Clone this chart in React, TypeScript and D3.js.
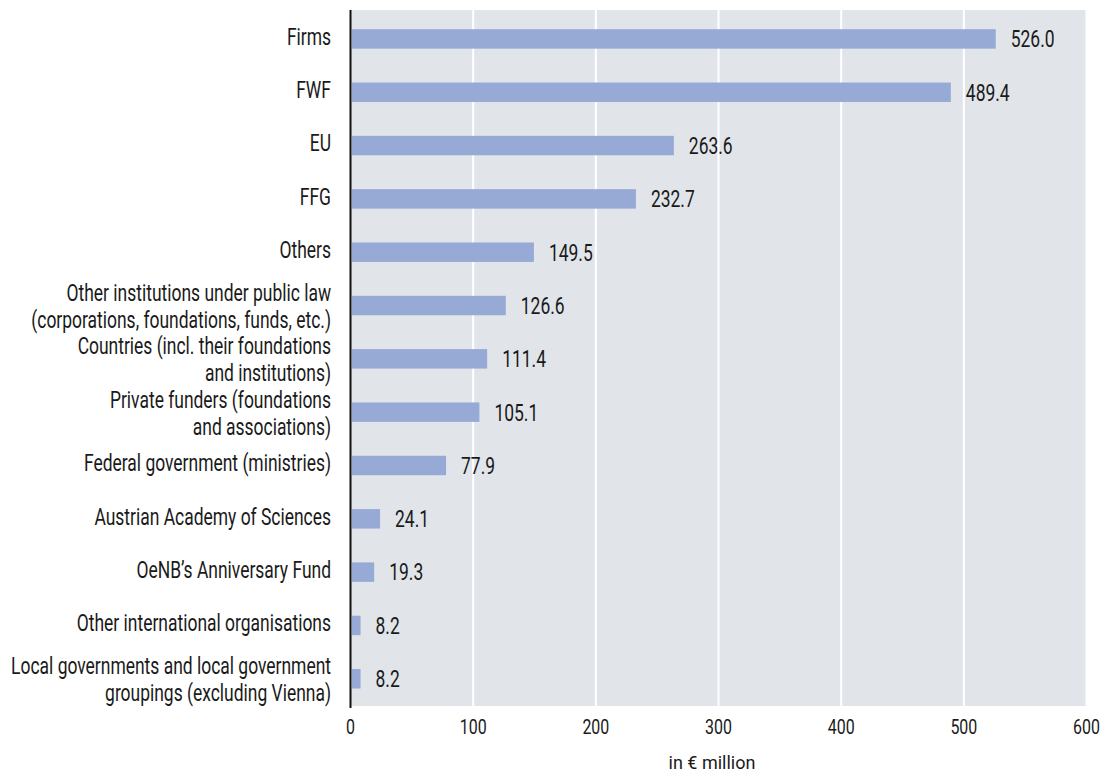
import React from "react";
import * as d3 from "d3";

const categories = [
  "Firms",
  "FWF",
  "EU",
  "FFG",
  "Others",
  "Other institutions under public law\n(corporations, foundations, funds, etc.)",
  "Countries (incl. their foundations\nand institutions)",
  "Private funders (foundations\nand associations)",
  "Federal government (ministries)",
  "Austrian Academy of Sciences",
  "OeNB’s Anniversary Fund",
  "Other international organisations",
  "Local governments and local government\ngroupings (excluding Vienna)",
];
const values = [526.0, 489.4, 263.6, 232.7, 149.5, 126.6, 111.4, 105.1, 77.9, 24.1, 19.3, 8.2, 8.2];
const xTicks = [0, 100, 200, 300, 400, 500, 600];
const xTitle = "in € million";

const W = 1104, H = 773;
const m = { left: 350.5, right: 1086.5, top: 10, bottom: 706 };
const FONT = "Roboto, 'DejaVu Sans Condensed', sans-serif";
const SX = 0.743;

function T({ x, y, size, sx = SX, anchor = "start", dy = "0.355em", children }: any) {
  return (
    <g transform={`translate(${x},${y}) scale(${sx},1)`}>
      <text x={0} y={0} dy={dy} fontSize={size} textAnchor={anchor} fill="#1a1a1a">
        {children}
      </text>
    </g>
  );
}

export default function App() {
  const x = d3.scaleLinear().domain([0, 600]).range([m.left, m.right]);
  const y = d3.scaleBand<string>().domain(categories).range([10, 707.7]).paddingInner(0.635).paddingOuter(0.36);
  const fs = 23.5;
  return (
    <svg width={W} height={H} style={{ position: "absolute", left: 0, top: 0 }} fontFamily={FONT}>
      <rect x={m.left} y={m.top} width={m.right - m.left} height={m.bottom - m.top} fill="#e1e5ea" />
      {xTicks.slice(1).map((t) => (
        <line key={t} x1={x(t)} x2={x(t)} y1={m.top} y2={m.bottom} stroke="#ffffff" strokeWidth={2} />
      ))}
      {categories.map((c, i) => {
        const yy = y(c)!;
        const bw = y.bandwidth();
        const cy = yy + bw / 2;
        const lines = c.split("\n");
        const shift = lines.length > 1 ? 0.5 : -2.5;
        return (
          <g key={c}>
            <rect x={x(0) + 1.5} y={yy} width={x(values[i]) - x(0) - 1.5} height={bw} fill="#97aad6" />
            <T x={x(values[i]) + 15} y={cy} size={fs}>
              {values[i].toFixed(1)}
            </T>
            {lines.map((l, j) => (
              <T key={j} x={331} y={cy + shift + (j - (lines.length - 1) / 2) * 27} size={fs} anchor="end">
                {l}
              </T>
            ))}
          </g>
        );
      })}
      <line x1={m.left} x2={m.left} y1={m.top} y2={m.bottom + 2} stroke="#111" strokeWidth={2} />
      {xTicks.map((t) => (
        <T key={t} x={x(t)} y={726.7} size={20.7} sx={0.77} anchor="middle">
          {t}
        </T>
      ))}
      <T x={712} y={769.3} size={18} sx={1.0} anchor="middle" dy="0">
        {xTitle}
      </T>
    </svg>
  );
}
